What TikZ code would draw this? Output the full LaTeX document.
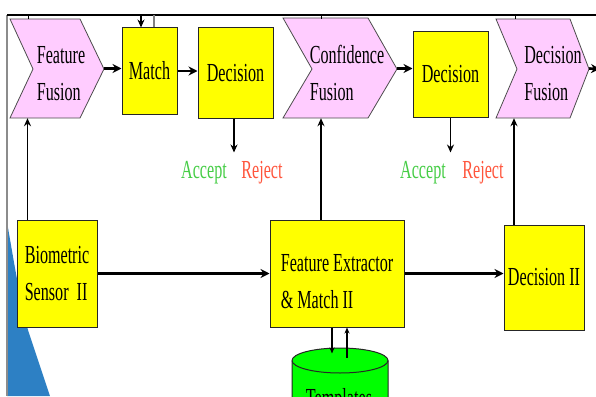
\documentclass[tikz,border=0pt]{standalone}
\usepackage{fontspec}
\setmainfont[FakeStretch=0.62]{Liberation Serif}
\usetikzlibrary{arrows.meta}
\definecolor{fusionpink}{RGB}{255,204,255}
\definecolor{boxyellow}{RGB}{255,255,0}
\definecolor{dbgreen}{RGB}{0,255,0}
\definecolor{acceptgreen}{RGB}{70,205,70}
\definecolor{rejectred}{RGB}{255,85,60}
\definecolor{slideblue}{RGB}{45,128,196}
\newcommand{\lowstrut}{\rule{0pt}{28pt}}
\tikzset{
  txt/.style={font=\fontsize{26}{37}\selectfont},
  block/.style={txt,draw=black!85,line width=1pt,fill=boxyellow,align=left,inner sep=0pt},
  fusion/.style={txt,align=left,inner sep=0pt,minimum height=99},
  chevron/.style={fill=fusionpink,draw=black!70,line width=.8pt,line join=miter},
  flow/.style={line width=2.6pt,-{Stealth[length=9pt,width=9pt]}},
  link/.style={line width=1.4pt,-{Stealth[length=8pt,width=7pt]}},
  dblink/.style={line width=1.2pt,-{Stealth[length=6pt,width=5pt]}},
}
\begin{document}
\begin{tikzpicture}[x=1pt,y=-1pt]
\useasboundingbox (0,0) rectangle (596,396);
\clip (0,0) rectangle (596,396);
% slide decoration and frame
\fill[slideblue] (7,222) .. controls (14,262) and (20,300) .. (28,330) -- (50,396) -- (7,396) -- cycle;
\draw[black!45,line width=1.2pt] (7,15) -- (7,396);
\coordinate (topL) at (7,15);
\draw[line width=2pt] (topL) -- (596,15);
%
% fusion chevrons
\draw[chevron] (10,19) -- (80,19) -- (104,69) -- (80,118) -- (10,118) -- (33,69) -- cycle;
\draw[chevron] (283,18) -- (368,18) -- (397,69) -- (368,118) -- (283,118) -- (312,69) -- cycle;
\draw[chevron] (496,19) -- (570,19) -- (589,69) -- (570,118) -- (496,118) -- (517,69) -- cycle;
%
% upper row
\node[fusion,minimum width=86] (ff) at (61,68.5) {\lowstrut Feature\\Fusion};
\node[block,minimum width=55,minimum height=86] (match) at (149.5,71) {Match};
\node[block,minimum width=75,minimum height=90] (dec1) at (235.5,73) {Decision};
\node[fusion,minimum width=100] (cf) at (347,68.5) {\lowstrut Confidence\\Fusion};
\node[block,minimum width=75,minimum height=85] (dec2) at (450.5,74.5) {Decision};
\node[fusion,minimum width=72] (df) at (553,68.5) {\lowstrut Decision\\Fusion};
\coordinate (dfout) at (600,69);
%
\node[txt,text=acceptgreen,anchor=base] (acc1) at (204,178) {Accept};
\node[txt,text=rejectred,anchor=base] (rej1) at (262,178) {Reject};
\node[txt,text=acceptgreen,anchor=base] (acc2) at (423,178) {Accept};
\node[txt,text=rejectred,anchor=base] (rej2) at (483,178) {Reject};
%
% lower row
\node[block,minimum width=80,minimum height=107] (sensor) at (57,273.5) {Biometric\\Sensor\ \ II};
\node[block,minimum width=134,minimum height=107] (fem) at (337,273.5) {\rule{0pt}{34pt}Feature Extractor\\\& Match II};
\node[block,minimum width=80,minimum height=105] (dec3) at (544,277.5) {Decision II};
%
% template store
\filldraw[fill=dbgreen,draw=black!85,line width=1pt] (292,440) -- (292,360.5) arc[start angle=180,end angle=0,x radius=48,y radius=-12.5] -- (388,440);
\draw[black!85,line width=1pt] (292,360.5) arc[start angle=180,end angle=360,x radius=48,y radius=-12.5];
\node[txt,anchor=base] (tmpl) at (339,406) {Templates};
%
% connectors
\draw[flow] (ff.east) -- (ff.east -| match.west);
\draw[flow] (match.east) -- (match.east -| dec1.west);
\draw[flow] (cf.east) -- (cf.east -| dec2.west);
\draw[flow] (df.east) -- (dfout);
\draw[flow] (sensor.east) -- (sensor.east -| fem.west);
\draw[flow] (fem.east) -- (fem.east -| dec3.west);
%
\draw[link] ([xshift=-1.5pt]dec1.south) -- ([xshift=-1.5pt,yshift=-34pt]dec1.south);
\draw[link] (dec2.south) -- ([yshift=-35pt]dec2.south);
\draw[link] ([xshift=11pt]sensor.north west) -- ([xshift=11pt]sensor.north west |- ff.south);
\draw[link] ([xshift=-26pt]cf.south |- fem.north) -- ([xshift=-26pt]cf.south);
\draw[link] ([xshift=-30pt]dec3.north) -- ([xshift=-30pt]dec3.north |- df.south);
%
% links to the bus on top
\draw[line width=1pt] ([xshift=-33pt]ff.north) -- ([xshift=-33pt]ff.north |- topL);
\draw[link] ([xshift=-8.5pt]match.north |- topL) -- ([xshift=-8.5pt]match.north);
\draw[black!50,line width=1.2pt] ([xshift=4.5pt]match.north) -- ([xshift=4.5pt]match.north |- topL);
\draw[line width=1pt] ([xshift=-26pt]cf.north) -- ([xshift=-26pt]cf.north |- topL);
\draw[line width=1pt] ([xshift=-38pt]df.north) -- ([xshift=-38pt]df.north |- topL);
%
\draw[dblink] ([xshift=-5pt]fem.south) -- ([xshift=-5pt,yshift=-26pt]fem.south);
\draw[dblink] ([xshift=10pt,yshift=-30pt]fem.south) -- ([xshift=10pt]fem.south);
\end{tikzpicture}
\end{document}
